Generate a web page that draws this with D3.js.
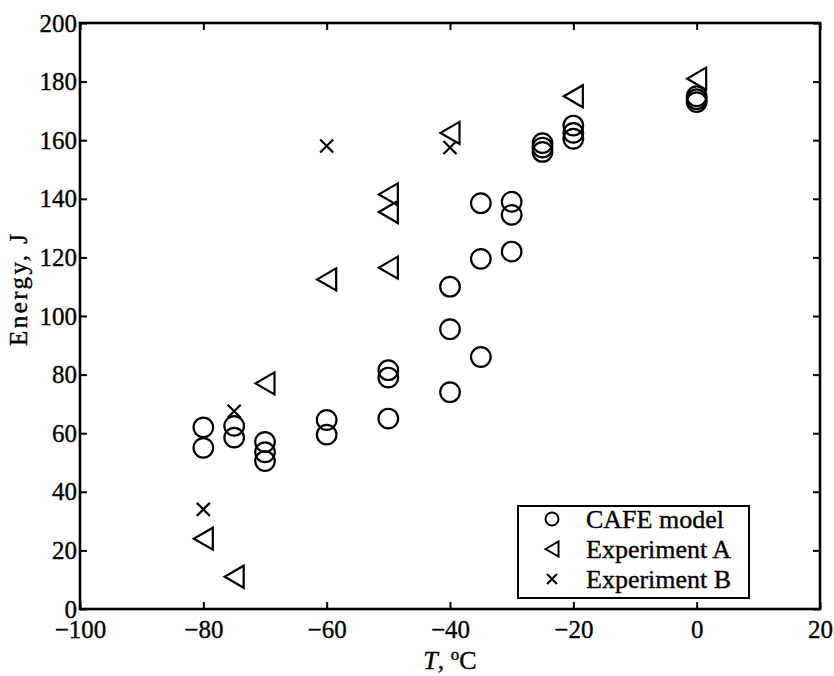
<!DOCTYPE html>
<html>
<head>
<meta charset="utf-8">
<script src="https://cdn.jsdelivr.net/npm/d3@7"></script>
<style>
  html, body { margin: 0; padding: 0; background: #fff; }
  svg { display: block; }
  text { font-family: "Liberation Serif", "Times New Roman", serif; fill: #000; stroke: #000; stroke-width: 0.35px; }
</style>
</head>
<body>
<svg id="chart" width="834" height="676"></svg>
<script>
// Impact energy versus temperature
const cafeT = [-80, -80, -75, -75, -70, -70, -70, -60, -60, -50, -50, -50,
               -40, -40, -40, -35, -35, -35, -30, -30, -30, -25, -25, -25,
               -20, -20, -20, 0, 0, 0];
const cafeE = [62, 55, 62.5, 58.5, 57, 53.5, 50.5, 64.5, 59.5, 81.5, 79, 65,
               110, 95.5, 74, 138.5, 119.5, 86, 139, 134.5, 122, 159, 157.5, 156,
               165, 162.5, 160.5, 175, 174, 173];

const expAT = [-80, -75, -70, -60, -50, -50, -50, -40, -20, 0];
const expAE = [24, 11, 77, 112.5, 141.5, 135.5, 116.5, 162.5, 175, 181];

const expBT = [-80, -75, -60, -40];
const expBE = [34, 67.5, 158, 157.5];

const xTicks = [-100, -80, -60, -40, -20, 0, 20];
const yTicks = [0, 20, 40, 60, 80, 100, 120, 140, 160, 180, 200];

const legendLabels = ["CAFE model", "Experiment A", "Experiment B"];

const svg = d3.select("#chart");
const plot = { left: 80, right: 820, top: 23, bottom: 609 };

const x = d3.scaleLinear().domain([-100, 20]).range([plot.left, plot.right]);
const y = d3.scaleLinear().domain([0, 200]).range([plot.bottom, plot.top]);

const tickLen = 7;
const fontSize = 25;

// axes with inward ticks on all four sides
const axisStyle = g => {
  g.select(".domain").remove();
  g.selectAll(".tick line").attr("stroke", "#000").attr("stroke-width", 2);
  g.selectAll(".tick text").style("font-size", fontSize + "px");
};

svg.append("g")
  .attr("transform", `translate(0,${plot.bottom})`)
  .call(d3.axisBottom(x).tickValues(xTicks).tickSizeInner(-tickLen).tickSizeOuter(0)
        .tickPadding(11).tickFormat(d => d < 0 ? "\u2212" + Math.abs(d) : d))
  .call(axisStyle)
  .call(g => g.selectAll(".tick text").attr("dy", "0.71em"));

svg.append("g")
  .attr("transform", `translate(0,${plot.top})`)
  .call(d3.axisTop(x).tickValues(xTicks).tickSizeInner(-tickLen).tickSizeOuter(0).tickFormat(""))
  .call(axisStyle);

svg.append("g")
  .attr("transform", `translate(${plot.left},0)`)
  .call(d3.axisLeft(y).tickValues(yTicks).tickSizeInner(-tickLen).tickSizeOuter(0).tickPadding(3))
  .call(axisStyle);

svg.append("g")
  .attr("transform", `translate(${plot.right},0)`)
  .call(d3.axisRight(y).tickValues(yTicks).tickSizeInner(-tickLen).tickSizeOuter(0).tickFormat(""))
  .call(axisStyle);

// plot frame
svg.append("rect")
  .attr("x", plot.left).attr("y", plot.top)
  .attr("width", plot.right - plot.left).attr("height", plot.bottom - plot.top)
  .attr("fill", "none").attr("stroke", "#000").attr("stroke-width", 2.6);

// marker shapes
const circlePath = r => `M${-r},0A${r},${r} 0 1,0 ${r},0A${r},${r} 0 1,0 ${-r},0Z`;
const triPath = (w, h) => `M${-w / 2},0L${w / 2},${-h / 2}L${w / 2},${h / 2}Z`;
const crossPath = s => `M${-s},${-s}L${s},${s}M${-s},${s}L${s},${-s}`;

const marks = svg.append("g").attr("fill", "none").attr("stroke", "#000").attr("stroke-width", 2.2);

marks.selectAll("path.cafe")
  .data(d3.zip(cafeT, cafeE))
  .join("path").attr("class", "cafe")
  .attr("d", circlePath(9.8))
  .attr("transform", d => `translate(${x(d[0])},${y(d[1])})`);

marks.selectAll("path.expa")
  .data(d3.zip(expAT, expAE))
  .join("path").attr("class", "expa")
  .attr("d", triPath(19, 22))
  .attr("transform", d => `translate(${x(d[0])},${y(d[1])})`);

marks.selectAll("path.expb")
  .data(d3.zip(expBT, expBE))
  .join("path").attr("class", "expb")
  .attr("d", crossPath(6.5))
  .attr("transform", d => `translate(${x(d[0])},${y(d[1])})`);

// axis titles
const xt = svg.append("text")
  .attr("x", (plot.left + plot.right) / 2).attr("y", 669)
  .attr("text-anchor", "middle").style("font-size", "26px");
xt.append("tspan").style("font-style", "italic").text("T");
xt.append("tspan").text(", ");
xt.append("tspan").attr("dy", -9).style("font-size", "17px").text("o");
xt.append("tspan").attr("dy", 9).text("C");

svg.append("text")
  .attr("transform", "translate(27,290) rotate(-90)")
  .attr("text-anchor", "middle").style("font-size", "25px")
  .attr("textLength", 112).attr("lengthAdjust", "spacing")
  .text("Energy, J");

// legend
const lg = svg.append("g");
lg.append("rect")
  .attr("x", 518).attr("y", 506).attr("width", 231).attr("height", 92)
  .attr("fill", "#fff").attr("stroke", "#000").attr("stroke-width", 2);

const legendShapes = [circlePath(6.5), triPath(13, 15), crossPath(5)];
legendLabels.forEach((label, i) => {
  const cy = 519 + i * 30;
  lg.append("path").attr("d", legendShapes[i])
    .attr("transform", `translate(552,${cy})`)
    .attr("fill", "none").attr("stroke", "#000").attr("stroke-width", 2);
  lg.append("text").attr("x", 586).attr("y", cy + 9)
    .style("font-size", "26px").text(label);
});
</script>
</body>
</html>
